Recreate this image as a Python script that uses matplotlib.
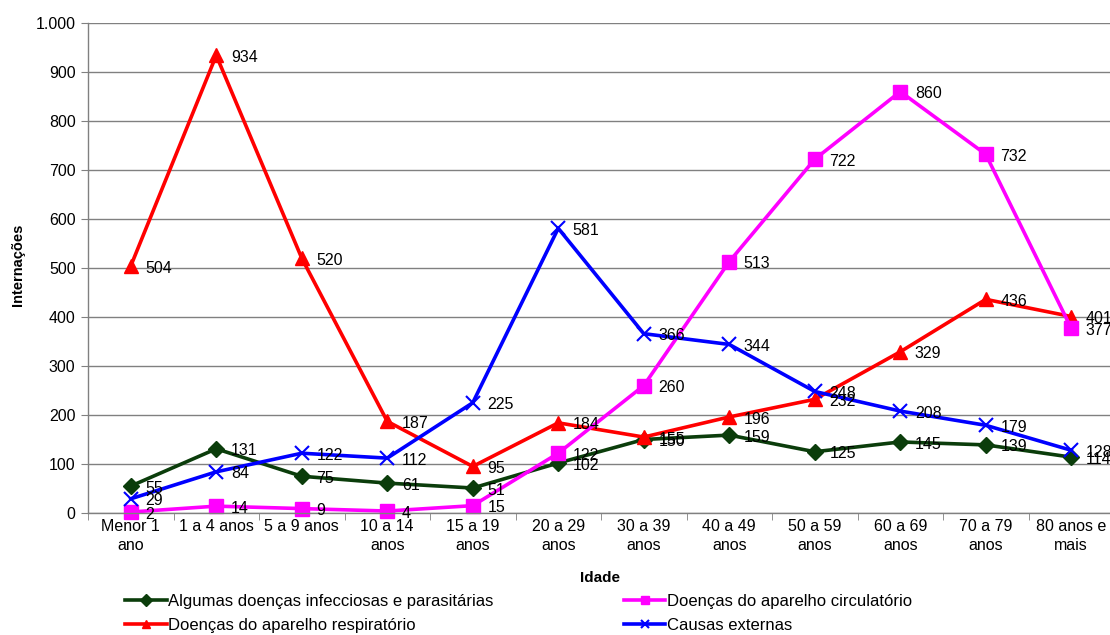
import matplotlib
matplotlib.use("Agg")
import matplotlib.pyplot as plt
import numpy as np
from matplotlib.ticker import FuncFormatter, FixedLocator

plt.rcParams['font.family'] = ['Liberation Sans', 'DejaVu Sans']

faixas = ["Menor 1\nano", "1 a 4 anos", "5 a 9 anos", "10 a 14\nanos", "15 a 19\nanos",
          "20 a 29\nanos", "30 a 39\nanos", "40 a 49\nanos", "50 a 59\nanos",
          "60 a 69\nanos", "70 a 79\nanos", "80 anos e\nmais"]

infecciosas = [55, 131, 75, 61, 51, 102, 150, 159, 125, 145, 139, 114]
circulatorio = [2, 14, 9, 4, 15, 122, 260, 513, 722, 860, 732, 377]
respiratorio = [504, 934, 520, 187, 95, 184, 155, 196, 232, 329, 436, 401]
externas = [29, 84, 122, 112, 225, 581, 366, 344, 248, 208, 179, 128]

series = [
    ("Algumas doenças infecciosas e parasitárias", infecciosas, "#0b3d0b", "D", 8),
    ("Doenças do aparelho respiratório", respiratorio, "#ff0000", "^", 10),
    ("Doenças do aparelho circulatório", circulatorio, "#ff00ff", "s", 10),
    ("Causas externas", externas, "#0000ff", "x", 10),
]

fig = plt.figure(figsize=(11.1, 6.35), dpi=100)
ax = fig.add_axes([88/1110, 1 - 513/635, 1026/1110, 490/635])

x = np.arange(len(faixas))
handles = []
for nome, vals, cor, mk, ms in series:
    h, = ax.plot(x, vals, color=cor, lw=2.6, marker=mk, ms=ms,
                 mew=1.5 if mk == "x" else 1, mec=cor, mfc=cor, label=nome, clip_on=False)
    handles.append(h)
    for xi, v in zip(x, vals):
        ax.annotate(str(v), (xi, v), xytext=(10.5, -1.5), textcoords="offset points",
                    ha="left", va="center", fontsize=11.5, color="black",
                    annotation_clip=False)

ax.set_xlim(-0.5, len(faixas) - 0.5)
ax.set_ylim(0, 1000)
ax.set_yticks(np.arange(0, 1001, 100))
ax.yaxis.set_major_formatter(FuncFormatter(lambda v, p: f"{int(v):,}".replace(",", ".")))
ax.grid(axis="y", color="#808080", lw=1)
ax.set_axisbelow(True)

ax.set_xticks(x)
ax.set_xticklabels(faixas, fontsize=11.5, linespacing=1.4)
ax.tick_params(axis="x", which="major", length=0, pad=4)
ax.xaxis.set_minor_locator(FixedLocator(np.arange(-0.5, len(faixas), 1)))
ax.tick_params(axis="x", which="minor", length=5, color="#808080")
ax.tick_params(axis="y", length=5, color="#808080", labelsize=11.5, pad=4)

for s in ["top", "right"]:
    ax.spines[s].set_visible(False)
for s in ["left", "bottom"]:
    ax.spines[s].set_color("#808080")
    ax.spines[s].set_linewidth(1)

fig.text(600/1110, 1 - 578/635, "Idade", ha="center", va="center", fontsize=11, fontweight="bold")
fig.text(18/1110, 1 - 265/635, "Internações", ha="center", va="center", rotation=90,
         fontsize=10.5, fontweight="bold")

leg = fig.legend(handles=handles, loc="upper left", bbox_to_anchor=(125/1110, 1 - 594/635),
                 ncol=2, frameon=False, handlelength=2.5, handletextpad=0.1,
                 columnspacing=7.8, labelspacing=0.55, borderaxespad=0, borderpad=0,
                 prop={"size": 12})
for lh in leg.legend_handles:
    lh.set_markersize(6)

fig.savefig("out.png", dpi=100)
